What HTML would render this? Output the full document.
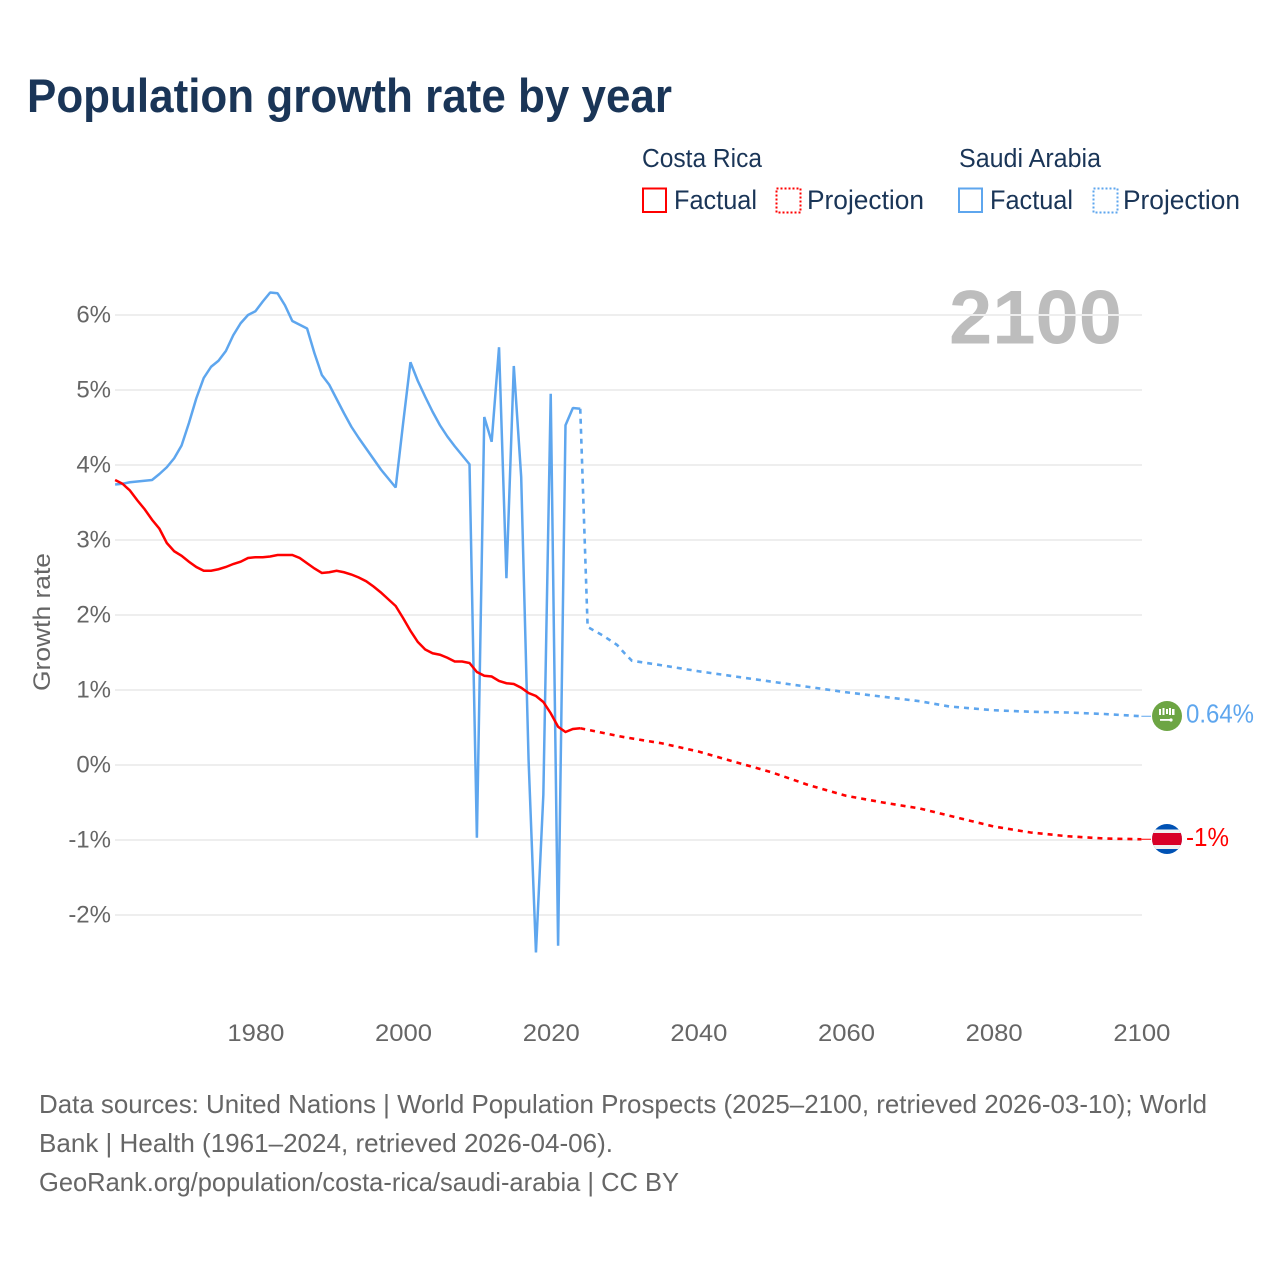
<!DOCTYPE html>
<html lang="en">
<head>
<meta charset="utf-8">
<title>Population growth rate by year</title>
<style>
html,body{margin:0;padding:0;background:#fff;}
svg{display:block;}
text{font-family:"Liberation Sans",sans-serif;}
</style>
</head>
<body>
<svg id="chart" xmlns="http://www.w3.org/2000/svg" width="1280" height="1280" viewBox="0 0 1280 1280">
  <rect width="1280" height="1280" fill="#fff"/>
  <text x="27" y="112" font-size="47" font-weight="700" fill="#1a3557" textLength="645" lengthAdjust="spacingAndGlyphs">Population growth rate by year</text>

  <g>
    <text x="642" y="167" font-size="25.5" fill="#1a3557" textLength="120" lengthAdjust="spacingAndGlyphs">Costa Rica</text>
    <text x="959" y="167" font-size="25.5" fill="#1a3557" textLength="142" lengthAdjust="spacingAndGlyphs">Saudi Arabia</text>
    <rect x="643" y="188.5" width="23" height="23.5" fill="none" stroke="#ff0000" stroke-width="2"/>
    <text x="674" y="209" font-size="26.5" fill="#1a3557" textLength="83" lengthAdjust="spacingAndGlyphs">Factual</text>
    <rect x="776.5" y="188.5" width="24" height="24" fill="none" stroke="#ff0000" stroke-width="2" stroke-dasharray="2 2"/>
    <text x="807" y="209" font-size="26.5" fill="#1a3557" textLength="117" lengthAdjust="spacingAndGlyphs">Projection</text>
    <rect x="959" y="188.5" width="23" height="23.5" fill="none" stroke="#5ea6ee" stroke-width="2"/>
    <text x="990" y="209" font-size="26.5" fill="#1a3557" textLength="83" lengthAdjust="spacingAndGlyphs">Factual</text>
    <rect x="1093.5" y="188.5" width="24" height="24" fill="none" stroke="#5ea6ee" stroke-width="2" stroke-dasharray="2 2"/>
    <text x="1123" y="209" font-size="26.5" fill="#1a3557" textLength="117" lengthAdjust="spacingAndGlyphs">Projection</text>
  </g>

  <text x="1122" y="343.5" font-size="76" font-weight="700" fill="#bdbdbd" text-anchor="end" textLength="173" lengthAdjust="spacingAndGlyphs">2100</text>
  <text transform="translate(50,622) rotate(-90)" font-size="24" fill="#666" text-anchor="middle" textLength="138" lengthAdjust="spacingAndGlyphs">Growth rate</text>

  <g id="grid"></g>
  <g id="yticks"></g>
  <g id="xticks"></g>
  <g id="series"></g>

  <g id="end-markers">
    <defs>
      <clipPath id="clip-cr"><circle id="clip-cr-circle" cx="1167" cy="839" r="15"/></clipPath>
    </defs>
    <g id="flag-sa">
      <circle cx="1167" cy="716" r="15" fill="#6da544"/>
      <rect x="1159" y="709" width="2" height="6" fill="#fff"/>
      <rect x="1162.5" y="708" width="2" height="7" fill="#fff"/>
      <rect x="1166" y="709" width="2" height="5" fill="#fff"/>
      <rect x="1169" y="708" width="2" height="7" fill="#fff"/>
      <rect x="1172" y="709" width="2.5" height="6" fill="#fff"/>
      <rect x="1160" y="719" width="12" height="1.8" fill="#fff"/>
      <circle cx="1171" cy="720" r="1.6" fill="#fff"/>
    </g>
    <g id="flag-cr" clip-path="url(#clip-cr)">
      <rect x="1152" y="824" width="30" height="30" fill="#0052b4"/>
      <rect x="1152" y="829.5" width="30" height="19.5" fill="#f0f0f0"/>
      <rect x="1152" y="833" width="30" height="12" fill="#d80027"/>
    </g>
    <text id="label-sa" x="1186" y="722.5" font-size="25.5" fill="#5ea6ee" textLength="68" lengthAdjust="spacingAndGlyphs">0.64%</text>
    <text id="label-cr" x="1186" y="846" font-size="25.5" fill="#ff0000" textLength="43" lengthAdjust="spacingAndGlyphs">-1%</text>
  </g>

  <g font-size="26" fill="#666">
    <text x="39" y="1113" textLength="1168" lengthAdjust="spacingAndGlyphs">Data sources: United Nations | World Population Prospects (2025–2100, retrieved 2026-03-10); World</text>
    <text x="39" y="1152" textLength="574" lengthAdjust="spacingAndGlyphs">Bank | Health (1961–2024, retrieved 2026-04-06).</text>
    <text x="39" y="1191" textLength="640" lengthAdjust="spacingAndGlyphs">GeoRank.org/population/costa-rica/saudi-arabia | CC BY</text>
  </g>
</svg>
<script>
const factualYears = [1961,1962,1963,1964,1965,1966,1967,1968,1969,1970,1971,1972,1973,1974,1975,1976,1977,1978,1979,1980,1981,1982,1983,1984,1985,1986,1987,1988,1989,1990,1991,1992,1993,1994,1995,1996,1997,1998,1999,2000,2001,2002,2003,2004,2005,2006,2007,2008,2009,2010,2011,2012,2013,2014,2015,2016,2017,2018,2019,2020,2021,2022,2023,2024];
const costaRicaFactual = [3.80,3.75,3.66,3.53,3.41,3.27,3.15,2.96,2.85,2.79,2.71,2.64,2.59,2.59,2.61,2.64,2.68,2.71,2.76,2.77,2.77,2.78,2.80,2.80,2.80,2.76,2.69,2.62,2.56,2.57,2.59,2.57,2.54,2.50,2.45,2.38,2.30,2.21,2.12,1.96,1.79,1.64,1.54,1.49,1.47,1.43,1.38,1.38,1.36,1.24,1.19,1.18,1.12,1.09,1.08,1.03,0.96,0.92,0.84,0.69,0.51,0.44,0.48,0.49];
const saudiArabiaFactual = [3.74,3.75,3.77,3.78,3.79,3.80,3.88,3.97,4.09,4.26,4.56,4.89,5.16,5.31,5.39,5.52,5.73,5.89,6.00,6.05,6.18,6.30,6.29,6.13,5.92,5.87,5.82,5.49,5.20,5.07,4.88,4.69,4.51,4.36,4.22,4.08,3.94,3.82,3.70,4.55,5.37,5.12,4.91,4.71,4.53,4.38,4.25,4.13,4.01,-0.97,4.64,4.31,5.57,2.49,5.32,3.84,0.07,-2.50,-0.40,4.95,-2.41,4.53,4.76,4.75];
const costaRicaProjectionYears = [2024,2025,2030,2035,2040,2045,2050,2055,2060,2065,2070,2075,2080,2085,2090,2095,2100];
const costaRicaProjection = [0.49,0.47,0.37,0.29,0.18,0.04,-0.10,-0.27,-0.41,-0.50,-0.58,-0.70,-0.82,-0.90,-0.95,-0.98,-0.99];
const saudiArabiaProjectionYears = [2024,2025,2027,2029,2030,2031,2033,2035,2040,2045,2050,2055,2060,2065,2070,2074,2080,2085,2090,2095,2100];
const saudiArabiaProjection = [4.75,1.84,1.73,1.60,1.49,1.39,1.36,1.33,1.25,1.18,1.11,1.04,0.97,0.91,0.85,0.78,0.73,0.71,0.70,0.68,0.65];
const yTickValues = [6,5,4,3,2,1,0,-1,-2];
const yTickLabels = ['6%','5%','4%','3%','2%','1%','0%','-1%','-2%'];
const xTickValues = [1980,2000,2020,2040,2060,2080,2100];
const xTickLabels = ['1980','2000','2020','2040','2060','2080','2100'];

const SVGNS = 'http://www.w3.org/2000/svg';
const RED = '#ff0000';
const BLUE = '#5ea6ee';
function xScale(year) { return 255.4 + (year - 1980) * 7.383; }
function yScale(value) { return 765 - value * 75; }
function make(tag, parent) {
  const el = document.createElementNS(SVGNS, tag);
  parent.appendChild(el);
  return el;
}
function pointsOf(years, values) {
  return years.map(function (y, i) { return xScale(y).toFixed(2) + ',' + yScale(values[i]).toFixed(2); }).join(' ');
}

const gridG = document.getElementById('grid');
const yG = document.getElementById('yticks');
yTickValues.forEach(function (v, i) {
  const line = make('line', gridG);
  
  
  line.setAttribute('x1', 115);
  line.setAttribute('x2', 1142);
  line.setAttribute('y1', yScale(v));
  line.setAttribute('y2', yScale(v));
  line.setAttribute('stroke', '#eeeeee');
  line.setAttribute('stroke-width', 2);
  const t = make('text', yG);
  
  
  t.setAttribute('x', 111);
  t.setAttribute('y', yScale(v) + 7.5);
  t.setAttribute('font-size', 24);
  t.setAttribute('fill', '#666');
  t.setAttribute('text-anchor', 'end');
  t.textContent = yTickLabels[i];
});

const xG = document.getElementById('xticks');
xTickValues.forEach(function (v, i) {
  const t = make('text', xG);
  
  
  t.setAttribute('x', xScale(v) - 28);
  t.setAttribute('y', 1041);
  t.setAttribute('font-size', 24);
  t.setAttribute('fill', '#666');
  t.setAttribute('textLength', 57);
  t.setAttribute('lengthAdjust', 'spacingAndGlyphs');
  t.textContent = xTickLabels[i];
});

const sG = document.getElementById('series');

const saFactual = make('polyline', sG);


saFactual.setAttribute('points', pointsOf(factualYears, saudiArabiaFactual));
saFactual.setAttribute('fill', 'none');
saFactual.setAttribute('stroke', BLUE);
saFactual.setAttribute('stroke-width', 2.5);
saFactual.setAttribute('stroke-linejoin', 'miter');
saFactual.setAttribute('stroke-miterlimit', 1);

const saProj = make('polyline', sG);


saProj.setAttribute('points', pointsOf(saudiArabiaProjectionYears, saudiArabiaProjection));
saProj.setAttribute('fill', 'none');
saProj.setAttribute('stroke', BLUE);
saProj.setAttribute('stroke-width', 2.6);
saProj.setAttribute('stroke-dasharray', '5 5');

const crFactual = make('polyline', sG);


crFactual.setAttribute('points', pointsOf(factualYears, costaRicaFactual));
crFactual.setAttribute('fill', 'none');
crFactual.setAttribute('stroke', RED);
crFactual.setAttribute('stroke-width', 2.5);

const crProj = make('polyline', sG);


crProj.setAttribute('points', pointsOf(costaRicaProjectionYears, costaRicaProjection));
crProj.setAttribute('fill', 'none');
crProj.setAttribute('stroke', RED);
crProj.setAttribute('stroke-width', 2.6);
crProj.setAttribute('stroke-dasharray', '5 5');

const saEnd = saudiArabiaProjection[saudiArabiaProjection.length - 1];
const crEnd = costaRicaProjection[costaRicaProjection.length - 1];

const saLink = make('line', sG);


saLink.setAttribute('x1', xScale(2100));
saLink.setAttribute('x2', 1151);
saLink.setAttribute('y1', yScale(saEnd));
saLink.setAttribute('y2', yScale(saEnd));
saLink.setAttribute('stroke', BLUE);
saLink.setAttribute('stroke-width', 1);

const crLink = make('line', sG);


crLink.setAttribute('x1', xScale(2100));
crLink.setAttribute('x2', 1151);
crLink.setAttribute('y1', yScale(crEnd));
crLink.setAttribute('y2', yScale(crEnd));
crLink.setAttribute('stroke', RED);
crLink.setAttribute('stroke-width', 1);
</script>
</body>
</html>
